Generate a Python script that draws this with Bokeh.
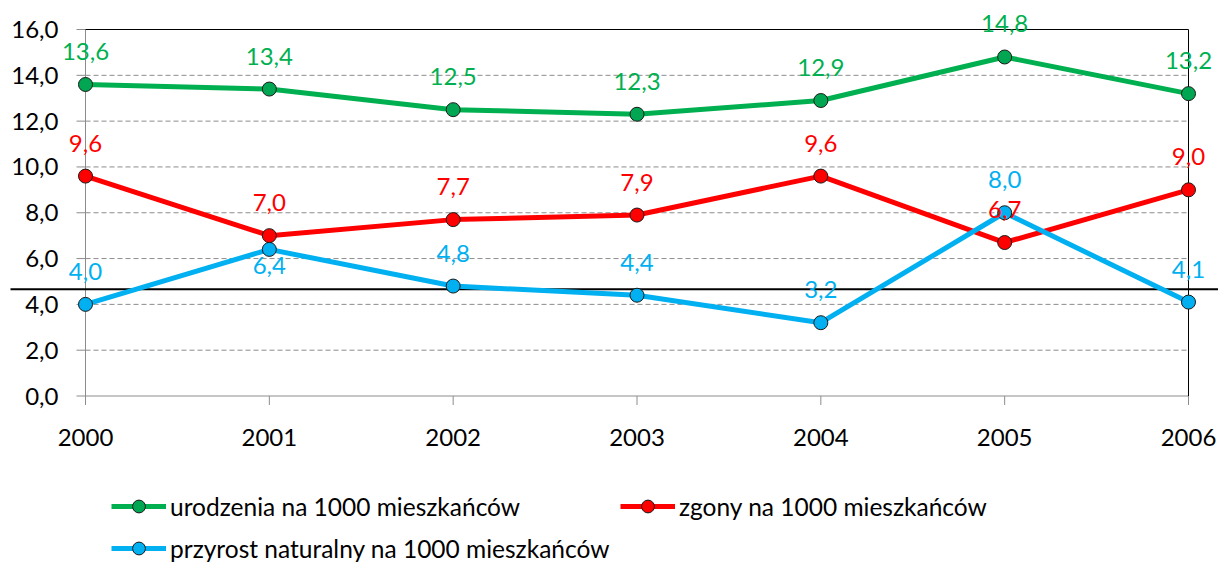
from bokeh.plotting import figure
from bokeh.models import (Range1d, FixedTicker, ColumnDataSource, LabelSet,
                          Legend, LegendItem)
from bokeh.core.properties import value
from bokeh.embed import file_html
from bokeh.resources import INLINE

# ---------------- data ----------------
YEARS = ["2000", "2001", "2002", "2003", "2004", "2005", "2006"]
BIRTHS = [13.6, 13.4, 12.5, 12.3, 12.9, 14.8, 13.2]
DEATHS = [9.6, 7.0, 7.7, 7.9, 9.6, 6.7, 9.0]
GROWTH = [4.0, 6.4, 4.8, 4.4, 3.2, 8.0, 4.1]
SERIES_NAMES = ["urodzenia na 1000 mieszkańców",
                "zgony na 1000 mieszkańców",
                "przyrost naturalny na 1000 mieszkańców"]
Y_TICKS = [0, 2, 4, 6, 8, 10, 12, 14, 16]
Y_TICK_LABELS = ["0,0", "2,0", "4,0", "6,0", "8,0", "10,0", "12,0", "14,0", "16,0"]
REF_LINE = 4.66

# ---------------- style ----------------
FONT = "Lato"
FS = "24px"
LEG_FS = "24.5px"
GREEN, GREEN_M = "#00B050", "#00A651"
RED = "#FF0000"
BLUE = "#00B0F0"
GRID = "#8C8C8C"
LABEL_UP = 33          # px, data labels above points
GROWTH_LABEL_SHIFT = [LABEL_UP, -16, LABEL_UP, LABEL_UP, LABEL_UP, LABEL_UP, LABEL_UP]

W, H = 1218, 566
# plot area (2000..2006, 0..16) in page pixels; the frame is the whole figure
PA_L, PA_R, PA_T, PA_B = 85, 1188, 29, 395.5
Y_MAX = Y_TICKS[-1]
X_MAX = len(YEARS) - 1
PX_X = (PA_R - PA_L) / X_MAX
PX_Y = (PA_B - PA_T) / Y_MAX
TICK = 9

x = list(range(len(YEARS)))

p = figure(width=W, height=H, output_backend="svg", toolbar_location=None,
           x_range=Range1d(-PA_L / PX_X, X_MAX + (W - PA_R) / PX_X),
           y_range=Range1d(-(H - PA_B) / PX_Y, Y_MAX + PA_T / PX_Y),
           min_border_left=0, min_border_right=0,
           min_border_top=0, min_border_bottom=0)
p.outline_line_color = None
p.background_fill_color = "white"
p.border_fill_color = "white"
p.xgrid.visible = False
p.ygrid.visible = False

# axes (labels pulled into the frame)
p.xaxis.ticker = FixedTicker(ticks=x)
p.xaxis.major_label_overrides = {i: y for i, y in zip(x, YEARS)}
p.yaxis.ticker = FixedTicker(ticks=Y_TICKS)
p.yaxis.major_label_overrides = {t: l for t, l in zip(Y_TICKS, Y_TICK_LABELS)}
for ax in (p.xaxis, p.yaxis):
    ax.axis_line_color = None
    ax.major_tick_line_color = None
    ax.major_tick_in = 0
    ax.major_tick_out = 0
    ax.minor_tick_line_color = None
    ax.major_label_text_font = FONT
    ax.major_label_text_font_size = FS
    ax.major_label_text_color = "black"
p.yaxis.major_label_standoff = -58
p.xaxis.major_label_standoff = -int(H - 428)

# tick marks at the plot-area edges
p.segment(x0=[-TICK / PX_X] * len(Y_TICKS), x1=[0] * len(Y_TICKS), y0=Y_TICKS, y1=Y_TICKS,
          line_color=GRID, line_width=1)
p.segment(x0=x, x1=x, y0=[0] * len(x), y1=[-TICK / PX_Y] * len(x),
          line_color=GRID, line_width=1)
# gridlines (dashed)
grid_y = Y_TICKS[1:-1]
p.segment(x0=[0] * len(grid_y), x1=[X_MAX] * len(grid_y), y0=grid_y, y1=grid_y,
          line_color=GRID, line_width=1, line_dash="5 3")
# axis lines (gray) and top/right border (black)
p.segment(x0=[0], x1=[0], y0=[0], y1=[Y_MAX], line_color=GRID, line_width=1)
p.segment(x0=[0], x1=[X_MAX], y0=[0], y1=[0], line_color=GRID, line_width=1)
p.segment(x0=[0, X_MAX], x1=[X_MAX, X_MAX], y0=[Y_MAX, Y_MAX], y1=[Y_MAX, 0],
          line_color="black", line_width=1)

# horizontal black reference line across the chart
p.segment(x0=[(10 - PA_L) / PX_X], x1=[X_MAX + (W - PA_R) / PX_X],
          y0=[REF_LINE], y1=[REF_LINE], line_color="black", line_width=2)

# series
series = [(BIRTHS, GREEN, GREEN_M, SERIES_NAMES[0], [LABEL_UP] * len(x)),
          (DEATHS, RED, RED, SERIES_NAMES[1], [LABEL_UP] * len(x)),
          (GROWTH, BLUE, BLUE, SERIES_NAMES[2], GROWTH_LABEL_SHIFT)]
items = []
for vals, lc, mc, name, offs in series:
    src = ColumnDataSource(dict(x=x, y=vals,
                                t=[f"{v:.1f}".replace(".", ",") for v in vals],
                                off=offs))
    lr = p.line("x", "y", source=src, line_color=lc, line_width=5)
    sr = p.scatter("x", "y", source=src, size=14, fill_color=mc,
                   line_color="#1a1a1a", line_width=1)
    items.append(LegendItem(label=name, renderers=[lr, sr]))
    p.add_layout(LabelSet(x="x", y="y", text="t", source=src, y_offset="off",
                          text_align="center", text_baseline="middle",
                          text_font=value(FONT), text_font_size=FS, text_color=lc))

# legends
LEG_KW = dict(orientation="horizontal", padding=0, margin=0, spacing=0,
              glyph_width=55, glyph_height=32, label_standoff=4,
              label_text_font=FONT, label_text_font_size=LEG_FS,
              label_text_color="black", background_fill_alpha=0,
              border_line_color=None)
legend_pos = [(111, 44), (620, 44), (111, 2)]
for it, loc in zip(items, legend_pos):
    p.add_layout(Legend(items=[it], location=loc, **LEG_KW), "center")

open("out.html", "w").write(file_html(p, INLINE))
